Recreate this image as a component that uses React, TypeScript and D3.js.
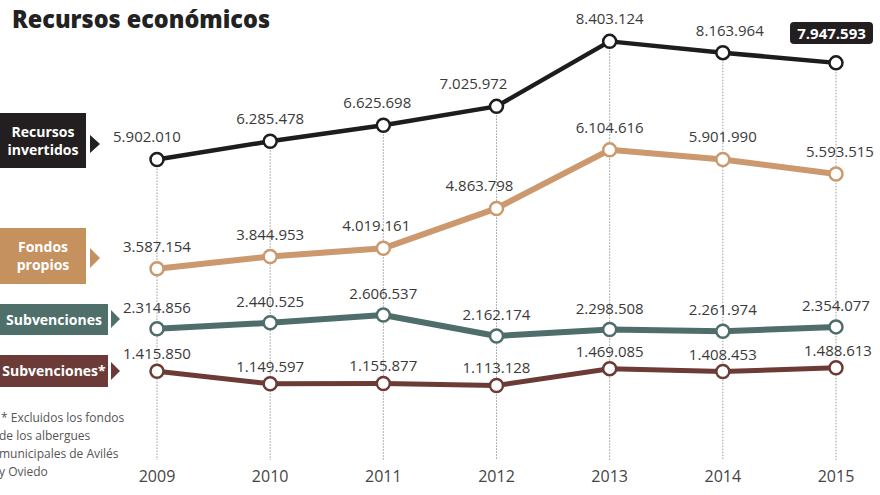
import React from "react";
import * as d3 from "d3";

const years = [2009, 2010, 2011, 2012, 2013, 2014, 2015];
const recursosInvertidos = [5902010, 6285478, 6625698, 7025972, 8403124, 8163964, 7947593];
const fondosPropios = [3587154, 3844953, 4019161, 4863798, 6104616, 5901990, 5593515];
const subvenciones = [2314856, 2440525, 2606537, 2162174, 2298508, 2261974, 2354077];
const subvencionesExcl = [1415850, 1149597, 1155877, 1113128, 1469085, 1408453, 1488613];

const seriesNames = [["Recursos", "invertidos"], ["Fondos", "propios"], ["Subvenciones"], ["Subvenciones*"]];
const footnote = ["* Excluidos los fondos", "de los albergues", "municipales de Avilés", "y Oviedo"];
const title = "Recursos económicos";

const W = 880;
const H = 495;

const fmt = d3.formatLocale({ decimal: ",", thousands: ".", grouping: [3], currency: ["", "€"] }).format(",d");

// horizontal nudges of value labels (layout only), keyed "series-index"
const labelNudge: Record<string, number> = {
  "0-0": -10, "0-2": -6, "0-3": -23, "0-4": 0, "0-5": 7,
  "1-2": -7, "1-3": -17, "1-5": 0, "1-6": 4,
  "2-6": 0, "3-6": 2,
};

export default function App() {
  const x = d3.scaleLinear().domain([2009, 2015]).range([157, 836]);
  const y = d3.scaleLinear().domain([0, 9000000]).range([438, 13.2]);

  const series = [
    { name: seriesNames[0], values: recursosInvertidos, color: "#1e1c1c", box: "#231f20", width: 4.5, off: 17,
      box0: [0, 113, 86, 55], arrow: [90, 100, 144, 9] },
    { name: seriesNames[1], values: fondosPropios, color: "#cb996d", box: "#c4915f", width: 6, off: 17,
      box0: [0, 228, 86, 56], arrow: [90, 100, 258, 10] },
    { name: seriesNames[2], values: subvenciones, color: "#4f6e6b", box: "#4f6f6b", width: 6, off: 16,
      box0: [0, 304, 108, 31], arrow: [111, 120, 319, 9] },
    { name: seriesNames[3], values: subvencionesExcl, color: "#6c3b36", box: "#6d3b37", width: 5, off: 12,
      box0: [0, 355, 108, 32], arrow: [111, 120, 371, 9] },
  ];

  const line = d3.line<number>().x((_, i) => x(years[i])).y((v) => y(v));

  const labelFont = "'Open Sans', 'DejaVu Sans', sans-serif";

  return (
    <div style={{ position: "absolute", left: 0, top: 0 }}>
      <svg width={W} height={H} style={{ display: "block", background: "#fff" }}>
        {/* title */}
        <text x={12} y={28} fontFamily={labelFont} fontWeight={800} fontSize={24} fill="#222"
          textLength={258} lengthAdjust="spacingAndGlyphs">{title}</text>

        {/* dotted verticals */}
        {years.map((yr, i) => (
          <line key={yr} x1={x(yr)} x2={x(yr)} y1={y(recursosInvertidos[i])} y2={460}
            stroke="#9a9a9a" strokeWidth={1} strokeDasharray="1.5,1.5" />
        ))}

        {/* year labels */}
        {years.map((yr) => (
          <text key={"t" + yr} x={x(yr)} y={482} textAnchor="middle" fontFamily={labelFont}
            fontSize={16} fill="#444">{yr}</text>
        ))}

        {/* lines */}
        {series.map((s, si) => (
          <g key={"s" + si}>
            <path d={line(s.values) || ""} fill="none" stroke={s.color} strokeWidth={s.width}
              strokeLinejoin="round" strokeLinecap="round" />
            {s.values.map((v, i) => (
              <circle key={i} cx={x(years[i])} cy={y(v)} r={6.5} fill="#fff" stroke={s.color} strokeWidth={2.5} />
            ))}
          </g>
        ))}

        {/* value labels */}
        {series.map((s, si) =>
          s.values.map((v, i) => {
            const isHighlight = si === 0 && i === s.values.length - 1;
            if (isHighlight) {
              return (
                <g key={"h" + si + i}>
                  <rect x={x(years[i]) - 46} y={22} width={83} height={22} rx={4} fill="#231f20" />
                  <text x={x(years[i]) - 4.5} y={39} textAnchor="middle" fontFamily={labelFont}
                    fontWeight={700} fontSize={15} fill="#fff">{fmt(v)}</text>
                </g>
              );
            }
            const dx = labelNudge[`${si}-${i}`] || 0;
            return (
              <text key={"l" + si + i} x={x(years[i]) + dx} y={y(v) - s.off} textAnchor="middle"
                fontFamily={labelFont} fontSize={15} fill="#3a3a3a">{fmt(v)}</text>
            );
          })
        )}

        {/* legend boxes */}
        {series.map((s, si) => {
          const [bx, by, bw, bh] = s.box0;
          const [ax0, ax1, ay, ah] = s.arrow;
          const cx = bx + bw / 2;
          const lines = s.name;
          const lh = 18;
          const cy = by + bh / 2;
          return (
            <g key={"b" + si}>
              <rect x={bx} y={by} width={bw} height={bh} fill={s.box} />
              <path d={`M${ax0},${ay - ah}L${ax1},${ay}L${ax0},${ay + ah}Z`} fill={s.box} />
              {lines.map((t, li) => (
                <text key={li} x={cx} y={cy + (li - (lines.length - 1) / 2) * lh + 5}
                  textAnchor="middle" fontFamily={labelFont} fontWeight={700} fontSize={14} fill="#fff">{t}</text>
              ))}
            </g>
          );
        })}

        {/* footnote */}
        {footnote.map((t, i) => (
          <text key={"f" + i} x={i === 0 ? 1 : -1} y={422 + i * 18} fontFamily={labelFont} fontSize={12}
            fill="#555">{t}</text>
        ))}
      </svg>
    </div>
  );
}
